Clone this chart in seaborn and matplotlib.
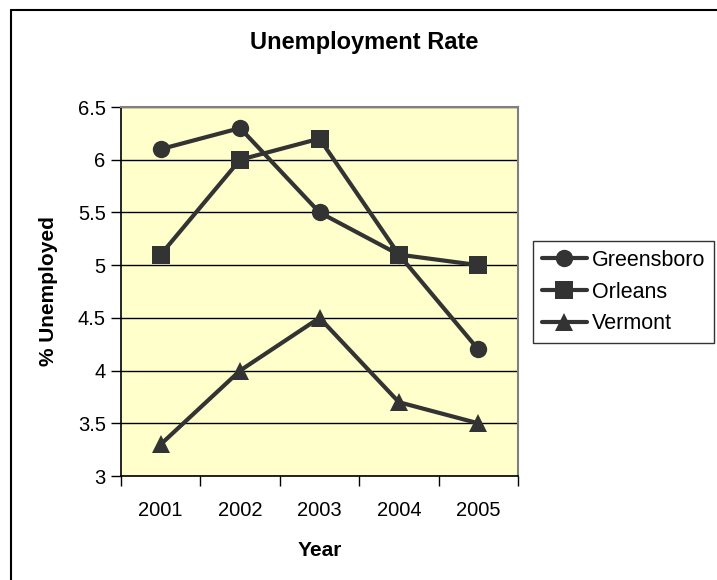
import matplotlib
matplotlib.use("Agg")
import matplotlib.pyplot as plt
from matplotlib.lines import Line2D
import seaborn as sns
import pandas as pd

years = ["2001", "2002", "2003", "2004", "2005"]
greensboro = [6.1, 6.3, 5.5, 5.1, 4.2]
orleans = [5.1, 6.0, 6.2, 5.1, 5.0]
vermont = [3.3, 4.0, 4.5, 3.7, 3.5]
series_names = ["Greensboro", "Orleans", "Vermont"]
y_ticks = [3, 3.5, 4, 4.5, 5, 5.5, 6, 6.5]
y_tick_labels = ["3", "3.5", "4", "4.5", "5", "5.5", "6", "6.5"]

rows = []
for name, vals in zip(series_names, [greensboro, orleans, vermont]):
    for i, v in enumerate(vals):
        rows.append({"pos": i, "Year": years[i], "City": name, "Rate": v})
df = pd.DataFrame(rows)

sns.set_theme(style="white")
plt.rcParams["font.family"] = ["Liberation Sans", "DejaVu Sans"]
plt.rcParams["text.color"] = "black"
plt.rcParams["axes.labelcolor"] = "black"
plt.rcParams["xtick.color"] = "black"
plt.rcParams["ytick.color"] = "black"

ink = "#333333"
fig = plt.figure(figsize=(7.17, 5.8), dpi=100)
ax = fig.add_axes([121 / 717, 1 - 476 / 580, (518 - 121) / 717, (476 - 107) / 580])
ax.set_facecolor("#FFFFCC")

markers = {"Greensboro": "o", "Orleans": "s", "Vermont": "^"}
sns.lineplot(data=df, x="pos", y="Rate", hue="City", style="City",
             palette={n: ink for n in series_names}, markers=markers,
             dashes=False, linewidth=3, markersize=12.5, markeredgewidth=0,
             legend=False, ax=ax, zorder=3)

ax.set_xlim(-0.5, 4.5)
ax.set_ylim(3, 6.5)
ax.set_yticks(y_ticks)
ax.set_yticklabels(y_tick_labels, fontsize=14.5, color="black")
ax.yaxis.grid(True, color="black", linewidth=1)
ax.xaxis.grid(False)

ax.set_xticks(range(len(years)))
ax.set_xticklabels(years, fontsize=14.5, color="black")
ax.set_xticks([i - 0.5 for i in range(len(years) + 1)], minor=True)
ax.tick_params(axis="x", which="major", length=0, pad=18)
ax.tick_params(axis="x", which="minor", length=7, width=1, color="black", direction="out", bottom=True)
ax.tick_params(axis="y", which="major", length=7, width=1, color="black", direction="out", left=True, pad=4)

for side in ["left", "bottom"]:
    ax.spines[side].set_color("black")
    ax.spines[side].set_linewidth(1.2)
for side in ["top", "right"]:
    ax.spines[side].set_color("#808080")
    ax.spines[side].set_linewidth(1.5)

ax.set_xlabel("Year", fontsize=15, fontweight="bold", labelpad=15, color="black")
ax.set_ylabel("% Unemployed", fontsize=15, fontweight="bold", labelpad=14, color="black")

fig.text(364 / 717, 1 - 43 / 580, "Unemployment Rate", ha="center", va="center",
         fontsize=17, fontweight="bold", color="black")

handles = [Line2D([0], [0], color=ink, linewidth=3, marker=markers[n], markersize=12.5,
                  markeredgewidth=0) for n in series_names]
leg = fig.legend(handles, series_names, loc="center", bbox_to_anchor=(623.5 / 717, 1 - 292 / 580),
                 fontsize=15.5, frameon=True, fancybox=False, edgecolor="black",
                 handlelength=2.1, handletextpad=0.25, borderpad=0.4, labelspacing=0.5)
leg.get_frame().set_linewidth(1)
for t in leg.get_texts():
    t.set_color("black")

# partial outer frame around the chart area
fig.add_artist(Line2D([11 / 717, 11 / 717], [0, 1 - 10 / 580], color="black", linewidth=1.5,
                      transform=fig.transFigure))
fig.add_artist(Line2D([11 / 717, 1], [1 - 10 / 580, 1 - 10 / 580], color="black", linewidth=1.5,
                      transform=fig.transFigure))

fig.savefig("out.png", dpi=100, facecolor="white")
